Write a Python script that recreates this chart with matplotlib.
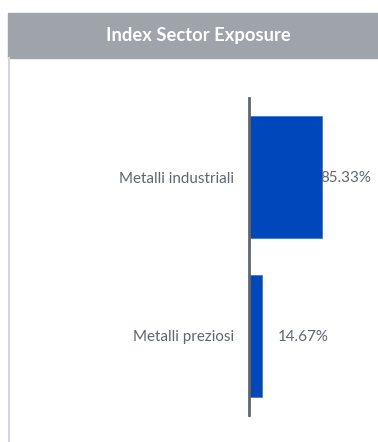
import matplotlib.pyplot as plt
from matplotlib.patches import Rectangle
from matplotlib.lines import Line2D

sectors = ["Metalli industriali", "Metalli preziosi"]
weights = [85.33, 14.67]
weight_labels = ["85.33%", "14.67%"]

plt.rcParams['font.family'] = ['Lato', 'DejaVu Sans']

W, H = 378, 442
fig = plt.figure(figsize=(W / 100, H / 100), dpi=100)

# header band and left border
fig.patches.append(Rectangle((8 / W, 1 - 58 / H), 1 - 8 / W, 45 / H,
                             transform=fig.transFigure, color="#9ea4aa", zorder=0))
fig.lines.append(Line2D([8.5 / W, 8.5 / W], [0, 1 - 58 / H], transform=fig.transFigure,
                        color="#d3d7db", lw=1.5))
fig.text(198 / W, 1 - 35 / H, "Index Sector Exposure", color="white",
         fontsize=13.2, fontweight="bold", ha="center", va="center")

ax = fig.add_axes([249.5 / W, 27 / H, 100 / W, 317 / H])
ypos = list(range(len(sectors)))
ax.barh(ypos, weights, height=0.77, color="#0047bb", edgecolor="#3a6fd0", linewidth=0.5)
ax.set_xlim(0, 117)
ax.set_ylim(1.5, -0.5)
ax.set_yticks(ypos)
ax.set_yticklabels(sectors, fontsize=10.9, color="#5f6670")
ax.tick_params(axis="y", length=0, pad=11)
ax.set_xticks([])
for s in ["top", "right", "bottom"]:
    ax.spines[s].set_visible(False)
ax.spines["left"].set_color("#5f6670")
ax.spines["left"].set_linewidth(2)
ax.patch.set_alpha(0)

offsets = [-2, 16]
for y, v, lab, off in zip(ypos, weights, weight_labels, offsets):
    ax.annotate(lab, (v, y), xytext=(off, -1), textcoords="offset pixels",
                ha="left", va="center", fontsize=10.9, color="#5f6670")

fig.savefig("out.png", dpi=100)
